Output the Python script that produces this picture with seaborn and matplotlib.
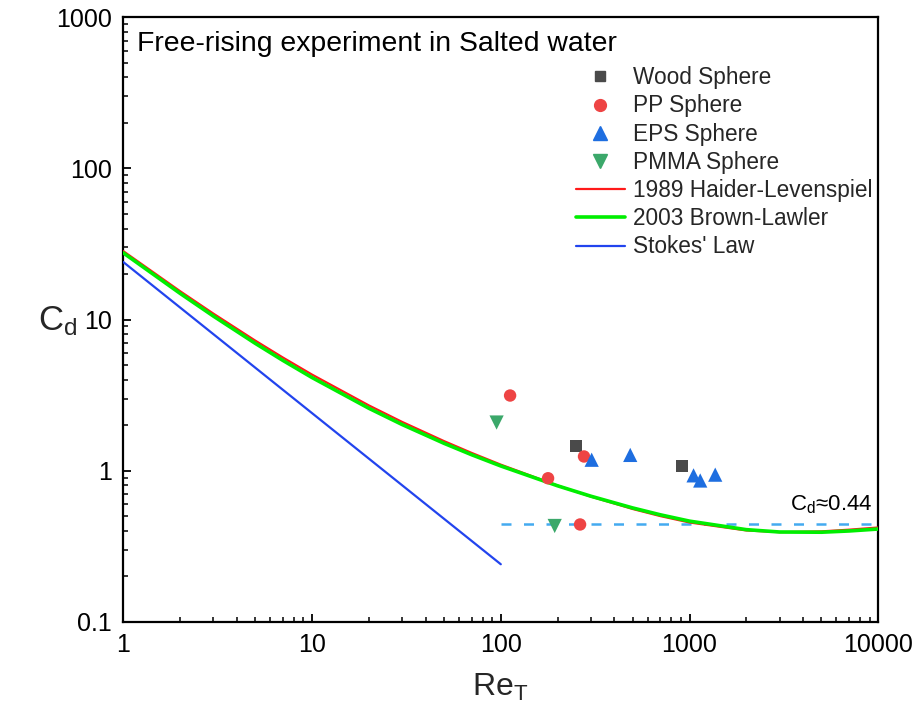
import numpy as np
import pandas as pd
import matplotlib
matplotlib.use("Agg")
import matplotlib.pyplot as plt
import seaborn as sns
from matplotlib.lines import Line2D

# ---------------- data ----------------
wood_re = [251, 910]
wood_cd = [1.46, 1.07]

pp_re = [112, 178, 276, 263]
pp_cd = [3.14, 0.89, 1.24, 0.44]

eps_re = [303, 485, 1050, 1139, 1368]
eps_cd = [1.18, 1.27, 0.93, 0.86, 0.94]

pmma_re = [95, 193]
pmma_cd = [2.08, 0.43]

curve_re = [1, 2, 3, 5, 7, 10, 20, 30, 50, 70, 100, 200, 300, 500, 700,
            1000, 2000, 3000, 5000, 7000, 10000]
hl_cd = [28.33, 15.39, 10.94, 7.251, 5.605, 4.318, 2.700, 2.100, 1.568, 1.310,
         1.095, 0.796, 0.673, 0.557, 0.500, 0.4535, 0.4016, 0.3916, 0.3961,
         0.4064, 0.4203]
bl_cd = [27.60, 14.886, 10.536, 6.954, 5.364, 4.128, 2.585, 2.018, 1.516, 1.274,
         1.073, 0.793, 0.677, 0.566, 0.510, 0.463, 0.4066, 0.3923, 0.391,
         0.3985, 0.4106]

stokes_re = [1, 100]
stokes_cd = [24.0, 0.24]

ref_re = [100, 10000]
ref_cd = [0.44, 0.44]

# ---------------- style ----------------
sns.set_theme(style="white")
plt.rcParams['font.family'] = ['Liberation Sans', 'DejaVu Sans']
plt.rcParams['mathtext.fontset'] = 'custom'
plt.rcParams['mathtext.rm'] = 'Liberation Sans'
plt.rcParams['mathtext.it'] = 'Liberation Sans:italic'

fig = plt.figure(figsize=(9.16, 7.10), dpi=100)
ax = fig.add_axes([123.3 / 916, 1 - 621.7 / 710, (878.3 - 123.3) / 916, (621.7 - 17.3) / 710])

c_wood = '#4a4a4a'
c_pp = '#ee4444'
c_eps = '#1e6ee0'
c_pmma = '#3ba86a'
c_hl = '#ff1a1a'
c_bl = '#00ee00'
c_st = '#2244ee'
c_ref = '#44aaf0'

# curves
sns.lineplot(x=curve_re, y=hl_cd, ax=ax, color=c_hl, linewidth=1.6, sort=False,
             estimator=None, zorder=3)
sns.lineplot(x=curve_re, y=bl_cd, ax=ax, color=c_bl, linewidth=2.6, sort=False,
             estimator=None, zorder=4)
sns.lineplot(x=stokes_re, y=stokes_cd, ax=ax, color=c_st, linewidth=1.6, sort=False,
             estimator=None, zorder=3)
ax.plot(ref_re, ref_cd, color=c_ref, linewidth=1.8, linestyle=(0, (4, 5)), zorder=2)

# points
sns.scatterplot(x=wood_re, y=wood_cd, ax=ax, marker='s', color=c_wood, s=72,
                edgecolor='none', zorder=5)
sns.scatterplot(x=pp_re, y=pp_cd, ax=ax, marker='o', color=c_pp, s=80,
                edgecolor='none', zorder=5)
sns.scatterplot(x=eps_re, y=eps_cd, ax=ax, marker='^', color=c_eps, s=105,
                edgecolor='none', zorder=5)
sns.scatterplot(x=pmma_re, y=pmma_cd, ax=ax, marker='v', color=c_pmma, s=105,
                edgecolor='none', zorder=5)

ax.set_xscale('log')
ax.set_yscale('log')
ax.set_xlim(1, 10000)
ax.set_ylim(0.1, 1000)

ax.set_xticks([1, 10, 100, 1000, 10000])
ax.set_xticklabels(['1', '10', '100', '1000', '10000'])
ax.set_yticks([0.1, 1, 10, 100, 1000])
ax.set_yticklabels(['0.1', '1', '10', '100', '1000'])
ax.xaxis.set_minor_locator(matplotlib.ticker.LogLocator(base=10, subs=np.arange(2, 10), numticks=20))
ax.yaxis.set_minor_locator(matplotlib.ticker.LogLocator(base=10, subs=np.arange(2, 10), numticks=20))
ax.xaxis.set_minor_formatter(matplotlib.ticker.NullFormatter())
ax.yaxis.set_minor_formatter(matplotlib.ticker.NullFormatter())

ax.tick_params(which='both', direction='in', colors='black', bottom=True, left=True,
               top=False, right=False)
ax.tick_params(which='major', length=6, width=1.3, labelsize=18, pad=8)
ax.tick_params(which='minor', length=3.5, width=1.1)

for sp in ax.spines.values():
    sp.set_color('black')
    sp.set_linewidth(1.6)

ax.set_xlabel(r'Re$_\mathrm{T}$', fontsize=23)
ax.set_ylabel(r'C$_\mathrm{d}$', fontsize=25, rotation=0)
ax.xaxis.set_label_coords(0.4993, -0.109)
ax.yaxis.set_label_coords(-0.087, 0.497)
ax.yaxis.label.set_verticalalignment('center')
ax.yaxis.label.set_horizontalalignment('center')
ax.xaxis.label.set_verticalalignment('center')

ax.text(0.0185, 0.944, 'Free-rising experiment in Salted water', transform=ax.transAxes,
        fontsize=20.4, ha='left', va='baseline', color='black')
ax.text(0.992, 0.184, r'C$_\mathrm{d}$≈0.44', transform=ax.transAxes,
        fontsize=16, ha='right', va='baseline', color='black')

handles = [
    Line2D([], [], linestyle='none', marker='s', color=c_wood, markersize=7.7),
    Line2D([], [], linestyle='none', marker='o', color=c_pp, markersize=8.5),
    Line2D([], [], linestyle='none', marker='^', color=c_eps, markersize=10),
    Line2D([], [], linestyle='none', marker='v', color=c_pmma, markersize=10),
    Line2D([], [], color=c_hl, linewidth=1.6),
    Line2D([], [], color=c_bl, linewidth=2.6),
    Line2D([], [], color=c_st, linewidth=1.6),
]
labels = ['Wood Sphere', 'PP Sphere', 'EPS Sphere', 'PMMA Sphere',
          '1989 Haider-Levenspiel', '2003 Brown-Lawler', "Stokes' Law"]
leg = ax.legend(handles, labels, loc='upper left', bbox_to_anchor=(0.599, 0.919),
                frameon=False, fontsize=16.3, handlelength=2.2, handletextpad=0.33,
                labelspacing=0.23, borderpad=0, borderaxespad=0)

fig.savefig('out.png', dpi=100)
